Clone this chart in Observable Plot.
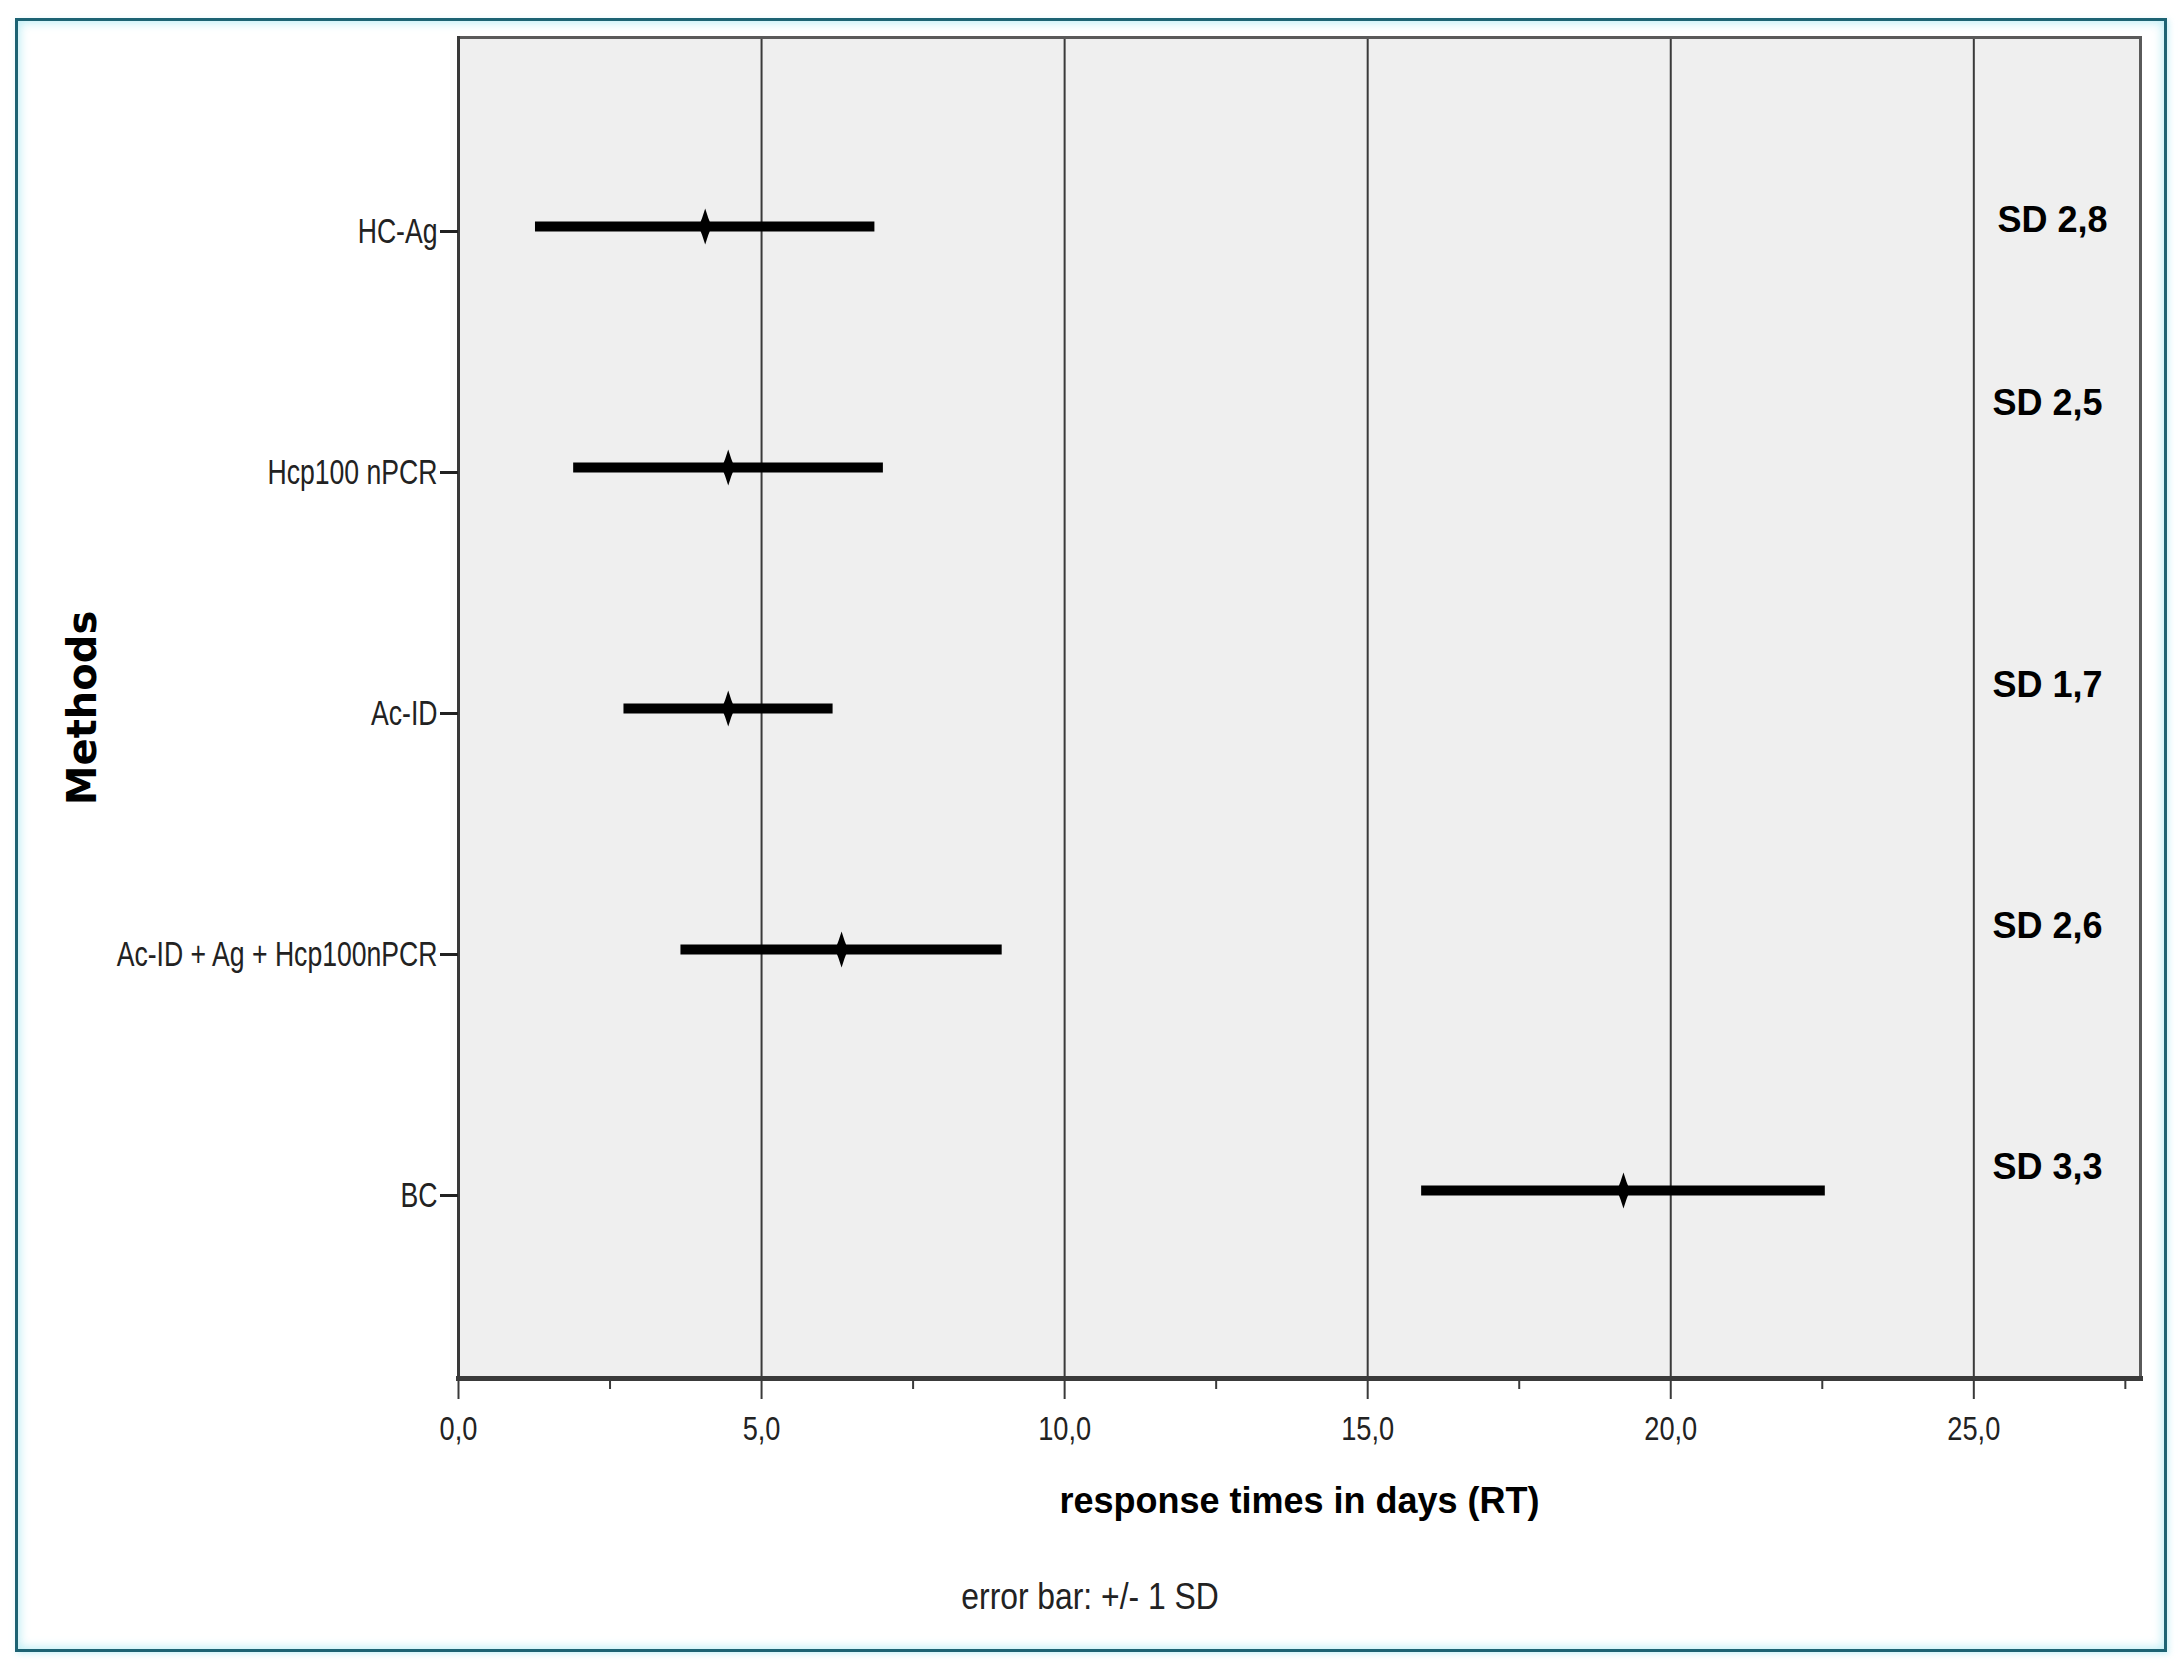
<!DOCTYPE html>
<html>
<head>
<meta charset="utf-8">
<script src="https://cdn.jsdelivr.net/npm/d3@7"></script>
<script src="https://cdn.jsdelivr.net/npm/@observablehq/plot@0.6"></script>
<style>
  html, body { margin: 0; padding: 0; background: #ffffff; overflow: hidden; }
  #wrap { position: relative; width: 2183px; height: 1674px; }
  #chart { position: absolute; left: 0; top: 0; }
  #frame {
    position: absolute; left: 15px; top: 18px; width: 2146px; height: 1628px;
    border: 3px solid #1d6373;
    box-shadow: inset 0 0 10px 2px rgba(170, 232, 242, 0.75), 2px 2px 6px rgba(170, 232, 242, 0.6);
    pointer-events: none;
  }
  #caption {
    position: absolute; left: 1090px; top: 1597px; transform: translate(-50%, -50%) scaleX(0.86);
    font-family: "Liberation Sans", Arial, sans-serif;
    font-size: 37px; color: #222; white-space: pre;
  }
</style>
</head>
<body>
<div id="wrap">
  <div id="chart"></div>
  <div id="frame"></div>
  <div id="caption">error bar: +/- 1 SD</div>
</div>
<script>
// ---- data ----
const methods = ["HC-Ag", "Hcp100 nPCR", "Ac-ID", "Ac-ID + Ag + Hcp100nPCR", "BC"];
const means = [4.07, 4.45, 4.45, 6.32, 19.22];
const lows  = [1.27, 1.90, 2.73, 3.67, 15.89];
const highs = [6.87, 7.01, 6.18, 8.97, 22.55];
const sds   = [2.8, 2.5, 1.7, 2.6, 3.3];
const majorTicks = [0, 5, 10, 15, 20, 25];
const minorTicks = [2.5, 7.5, 12.5, 17.5, 22.5, 27.5];
const gridValues = [5, 10, 15, 20, 25];
const xLabel = "response times in days (RT)";
const yLabel = "Methods";

const rows = methods.map((m, i) => ({method: m, mean: means[i], low: lows[i], high: highs[i], sd: sds[i]}));

// narrow vertical diamond for the mean marker
const spindle = {
  draw(context, size) {
    const r = Math.sqrt(size / Math.PI);
    const w = r * 0.36;
    context.moveTo(0, -r);
    context.quadraticCurveTo(w * 0.45, -r * 0.45, w, 0);
    context.quadraticCurveTo(w * 0.45, r * 0.45, 0, r);
    context.quadraticCurveTo(-w * 0.45, r * 0.45, -w, 0);
    context.quadraticCurveTo(-w * 0.45, -r * 0.45, 0, -r);
    context.closePath();
  }
};

const sans = "'Liberation Sans', Arial, sans-serif";
const fmt = d => d.toFixed(1).replace(".", ",");
const sdText = d => `SD ${fmt(d.sd)}`;
const sdStyle = {y: "method", text: sdText, frameAnchor: "right", textAnchor: "start",
  fontSize: 36, fontWeight: "bold", fontFamily: sans, fill: "#000"};

const plot = Plot.plot({
  width: 2183,
  height: 1674,
  marginLeft: 458,
  marginRight: 43,
  marginTop: 37,
  marginBottom: 296,
  style: {background: "transparent", color: "#222"},
  x: {domain: [0, 27.75]},
  y: {type: "point", domain: methods, padding: 0.775},
  marks: [
    Plot.frame({fill: "#efefef"}),
    Plot.ruleX(gridValues, {stroke: "#3a3a3a", strokeWidth: 2}),
    Plot.frame({stroke: "#5a5a5a", strokeWidth: 3}),
    Plot.frame({anchor: "bottom", stroke: "#3a3a3a", strokeWidth: 5}),
    Plot.frame({anchor: "left", stroke: "#3a3a3a", strokeWidth: 3}),
    Plot.axisX({ticks: majorTicks, tickSize: 21, tickPadding: 16, tickFormat: fmt, label: null,
      fontSize: 34, fontFamily: sans, stroke: "#3a3a3a", strokeWidth: 2}),
    Plot.axisX({ticks: minorTicks, tickSize: 11, tickFormat: () => "", label: null,
      stroke: "#3a3a3a", strokeWidth: 2}),
    Plot.axisY({tickSize: 18, tickPadding: 3, label: null, fontSize: 35, fontFamily: sans,
      stroke: "#222", strokeWidth: 3, dy: 5}),
    Plot.ruleY(rows, {y: "method", x1: "low", x2: "high", stroke: "#000", strokeWidth: 10}),
    Plot.dot(rows, {x: "mean", y: "method", symbol: spindle, r: 18, fill: "#000", stroke: null}),
    Plot.text(rows.filter((d, i) => i === 0), {...sdStyle, dx: -143, dy: -6}),
    Plot.text(rows.filter((d, i) => i === 1), {...sdStyle, dx: -148, dy: -64}),
    Plot.text(rows.filter((d, i) => i >= 2), {...sdStyle, dx: -148, dy: -23}),
    Plot.text([xLabel], {frameAnchor: "bottom", dy: 123, lineAnchor: "middle", fontSize: 36, fontWeight: "bold",
      fontFamily: sans, fill: "#000"}),
    Plot.text([yLabel], {frameAnchor: "left", textAnchor: "middle", dx: -375, rotate: -90, fontSize: 40,
      fontWeight: "bold", fontFamily: "'DejaVu Sans', Verdana, sans-serif", fill: "#000"})
  ]
});
document.getElementById("chart").appendChild(plot);

// condense the tick labels horizontally (the reference uses a narrow face)
function condense(selector, factor) {
  plot.querySelectorAll(selector).forEach(el => {
    const L = el.getComputedTextLength();
    if (L > 0) {
      el.setAttribute("textLength", (L * factor).toFixed(1));
      el.setAttribute("lengthAdjust", "spacingAndGlyphs");
    }
  });
}
condense('g[aria-label="y-axis tick label"] text', 0.76);
condense('g[aria-label="x-axis tick label"] text', 0.8);
</script>
</body>
</html>
